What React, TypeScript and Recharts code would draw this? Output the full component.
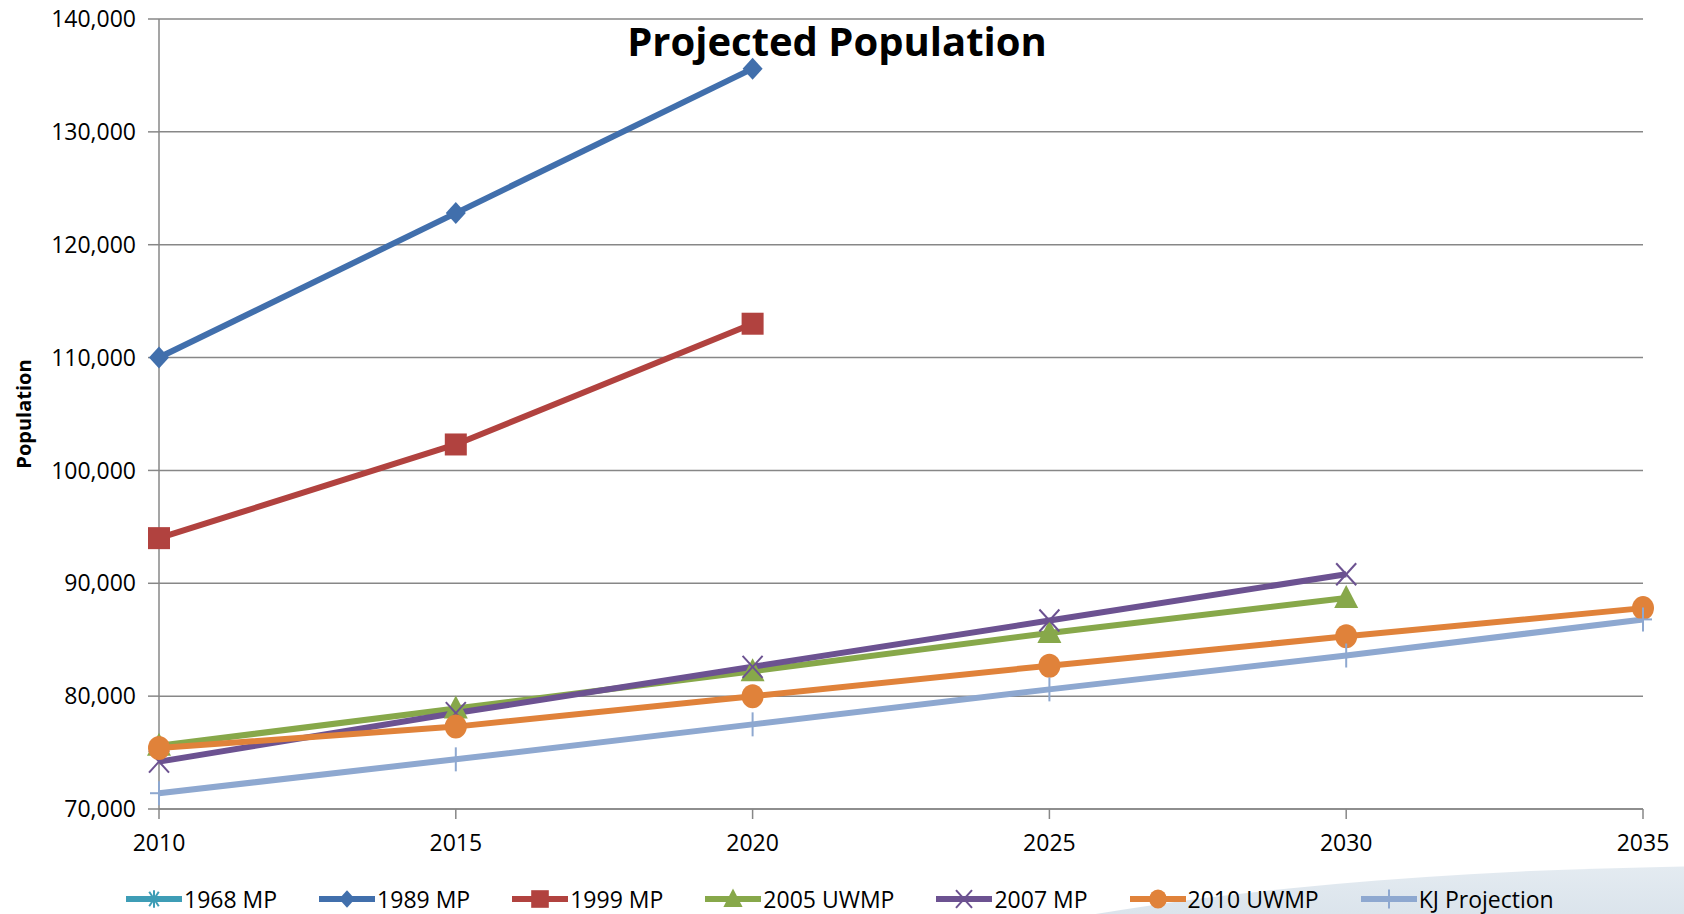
import React from 'react';
import { LineChart, Line, XAxis, YAxis, CartesianGrid, Legend } from 'recharts';

const years = [2010, 2015, 2020, 2025, 2030, 2035];
const yTicks = [70000, 80000, 90000, 100000, 110000, 120000, 130000, 140000];
const mp1968: (number | null)[] = [null, null, null, null, null, null];
const mp1989: (number | null)[] = [110000, 122800, 135600, null, null, null];
const mp1999: (number | null)[] = [94000, 102300, 113000, null, null, null];
const uwmp2005: (number | null)[] = [75600, 78900, 82200, 85600, 88700, null];
const mp2007: (number | null)[] = [74200, 78500, 82600, 86700, 90800, null];
const uwmp2010: (number | null)[] = [75400, 77300, 80000, 82700, 85300, 87800];
const kjProj: (number | null)[] = [71400, 74400, 77500, 80600, 83600, 86800];

const data = years.map((y, i) => ({
  year: y,
  mp1968: mp1968[i],
  mp1989: mp1989[i],
  mp1999: mp1999[i],
  uwmp2005: uwmp2005[i],
  mp2007: mp2007[i],
  uwmp2010: uwmp2010[i],
  kj: kjProj[i],
}));

type Shape = 'star' | 'diamond' | 'square' | 'triangle' | 'x' | 'circle' | 'plus';

const series: { key: string; name: string; color: string; shape: Shape }[] = [
  { key: 'mp1968', name: '1968 MP', color: '#3E9DB6', shape: 'star' },
  { key: 'mp1989', name: '1989 MP', color: '#416FAC', shape: 'diamond' },
  { key: 'mp1999', name: '1999 MP', color: '#B1423F', shape: 'square' },
  { key: 'uwmp2005', name: '2005 UWMP', color: '#87A84A', shape: 'triangle' },
  { key: 'mp2007', name: '2007 MP', color: '#6C5291', shape: 'x' },
  { key: 'uwmp2010', name: '2010 UWMP', color: '#E0823A', shape: 'circle' },
  { key: 'kj', name: 'KJ Projection', color: '#8EA8D0', shape: 'plus' },
];

const FONT = '"Open Sans", "Noto Sans", sans-serif';

function marker(shape: Shape, cx: number, cy: number, color: string, k?: any, s: number = 1) {
  switch (shape) {
    case 'star':
      return (
        <g key={k} stroke={color} strokeWidth={2}>
          <line x1={cx - 10 * s} y1={cy} x2={cx + 10 * s} y2={cy} />
          <line x1={cx} y1={cy - 11 * s} x2={cx} y2={cy + 11 * s} />
          <line x1={cx - 6 * s} y1={cy - 9 * s} x2={cx + 6 * s} y2={cy + 9 * s} />
          <line x1={cx - 6 * s} y1={cy + 9 * s} x2={cx + 6 * s} y2={cy - 9 * s} />
        </g>
      );
    case 'diamond':
      return (
        <polygon
          key={k}
          points={`${cx},${cy - 11 * s} ${cx + 10 * s},${cy} ${cx},${cy + 11 * s} ${cx - 10 * s},${cy}`}
          fill={color}
        />
      );
    case 'square':
      return <rect key={k} x={cx - 11 * s} y={cy - 11 * s} width={22 * s} height={22 * s} fill={color} />;
    case 'triangle':
      return (
        <polygon
          key={k}
          points={`${cx},${cy - 13 * s} ${cx + 12 * s},${cy + 10 * s} ${cx - 12 * s},${cy + 10 * s}`}
          fill={color}
        />
      );
    case 'x':
      return (
        <g key={k} stroke={color} strokeWidth={2}>
          <line x1={cx - 10 * s} y1={cy - 11 * s} x2={cx + 10 * s} y2={cy + 11 * s} />
          <line x1={cx - 10 * s} y1={cy + 11 * s} x2={cx + 10 * s} y2={cy - 11 * s} />
        </g>
      );
    case 'circle':
      return <ellipse key={k} cx={cx} cy={cy} rx={11 * s} ry={12 * s} fill={color} />;
    case 'plus':
      return (
        <g key={k} stroke={color} strokeWidth={2}>
          <line x1={cx} y1={cy - 12 * s} x2={cx} y2={cy + 12 * s} />
          <line x1={cx - 9 * s} y1={cy} x2={cx + 9 * s} y2={cy} />
        </g>
      );
  }
  return null;
}

const makeDot = (shape: Shape, color: string) => (props: any) => {
  const { cx, cy, value, index } = props;
  const k = `${shape}-${index}`;
  if (value == null || cx == null || cy == null || isNaN(cy)) return <g key={k} />;
  return marker(shape, cx, cy, color, k);
};

const LegendContent = () => (
  <div
    style={{
      height: 50,
      boxSizing: 'border-box',
      paddingTop: 20,
      paddingLeft: 126,
      display: 'flex',
      alignItems: 'center',
      fontFamily: FONT,
      fontSize: 23,
      lineHeight: '26px',
      color: '#000',
      whiteSpace: 'nowrap',
    }}
  >
    {series.map((s) => (
      <div key={s.key} style={{ display: 'flex', alignItems: 'center', marginRight: 42 }}>
        <svg width={56} height={26} style={{ display: 'block' }}>
          <line x1={0} y1={13} x2={56} y2={13} stroke={s.color} strokeWidth={6} />
          {marker(s.shape, 28, 13, s.color, undefined, 0.8)}
        </svg>
        <span style={{ marginLeft: 2 }}>{s.name}</span>
      </div>
    ))}
  </div>
);

export default function App() {
  return (
    <div style={{ position: 'absolute', left: 0, top: 0, width: 1684, height: 914, overflow: 'hidden', background: '#fff' }}>
      <div
        style={{
          position: 'absolute',
          left: 760,
          top: 866,
          width: 2000,
          height: 380,
          borderRadius: '50%',
          background: 'linear-gradient(180deg, #e4ebf1 0%, #d2dde7 25%, #dbe4ec 60%, #eef2f5 100%)',
        }}
      />
      <div style={{ position: 'absolute', left: 0, top: 0 }}>
        <LineChart width={1684} height={914} data={data} margin={{ top: 19, right: 41, left: 0, bottom: 0 }}>
          <CartesianGrid vertical={false} stroke="#878787" strokeWidth={1.5} />
          <XAxis
            dataKey="year"
            type="number"
            domain={[2010, 2035]}
            ticks={years}
            height={55}
            axisLine={{ stroke: '#878787', strokeWidth: 1.5 }}
            tickLine={{ stroke: '#878787', strokeWidth: 1.5 }}
            tickSize={10}
            tickMargin={16}
            tick={{ fontSize: 23, fill: '#000', fontFamily: FONT }}
            interval={0}
          />
          <YAxis
            type="number"
            domain={[70000, 140000]}
            ticks={yTicks}
            width={159}
            axisLine={{ stroke: '#878787', strokeWidth: 1.5 }}
            tickLine={{ stroke: '#878787', strokeWidth: 1.5 }}
            tickSize={11}
            tickMargin={12}
            tick={{ fontSize: 23, fill: '#000', fontFamily: FONT }}
            tickFormatter={(v: number) => v.toLocaleString('en-US')}
            interval={0}
            label={{
              content: () => (
                <text
                  x={31}
                  y={414}
                  transform="rotate(-90, 31, 414)"
                  textAnchor="middle"
                  fontFamily={FONT}
                  fontWeight="bold"
                  fontSize={20}
                  fill="#000"
                >
                  Population
                </text>
              ),
            }}
          />
          <Legend verticalAlign="bottom" height={50} content={LegendContent} />
          {series.map((s) => (
            <Line
              key={s.key}
              dataKey={s.key}
              name={s.name}
              stroke={s.color}
              strokeWidth={6}
              dot={makeDot(s.shape, s.color)}
              activeDot={false}
              isAnimationActive={false}
              connectNulls={false}
              type="linear"
            />
          ))}
        </LineChart>
      </div>
      <div
        style={{
          position: 'absolute',
          left: 0,
          width: 1674,
          top: 21,
          textAlign: 'center',
          fontFamily: FONT,
          fontWeight: 'bold',
          fontSize: 40,
          lineHeight: '40px',
          color: '#000',
        }}
      >
        Projected Population
      </div>
    </div>
  );
}
